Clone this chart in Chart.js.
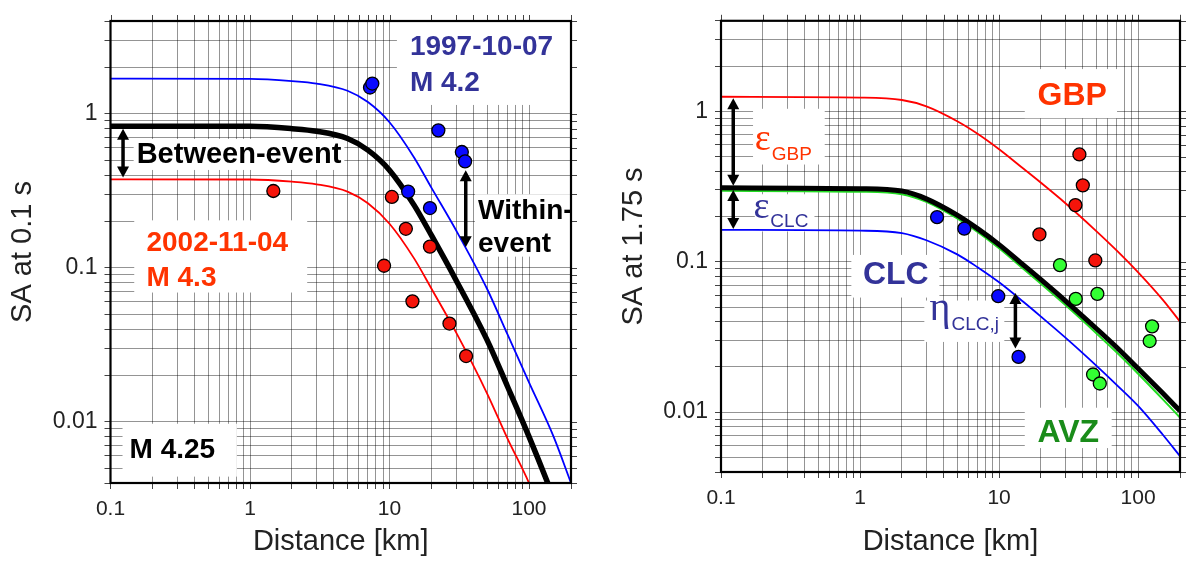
<!DOCTYPE html>
<html lang="en">
<head>
<meta charset="UTF-8">
<title>SA vs distance</title>
<script src="https://cdn.jsdelivr.net/npm/chart.js"></script>
<style>
  html, body { margin: 0; padding: 0; background: #fff; }
  .panel { position: absolute; top: 0; width: 594px; height: 563px; }
  #left { left: 0; }
  #right { left: 594px; }
</style>
</head>
<body>
<div class="panel" id="left"><canvas id="chartShort"></canvas></div>
<div class="panel" id="right"><canvas id="chartLong"></canvas></div>
<script>
const distKm = [0.1, 1, 2, 3, 5, 7, 10, 15, 20, 30, 50, 70, 100, 150, 200];

// left panel, SA at 0.1 s
const medianShort = [0.83, 0.828, 0.80, 0.77, 0.69, 0.58, 0.43, 0.255, 0.162, 0.083, 0.034, 0.017, 0.0080, 0.0032, 0.0016];
const event1997 = [1.69, 1.685, 1.63, 1.57, 1.41, 1.19, 0.88, 0.52, 0.33, 0.175, 0.073, 0.037, 0.018, 0.0080, 0.0040];
const event2002 = [0.375, 0.374, 0.362, 0.348, 0.312, 0.262, 0.193, 0.115, 0.073, 0.038, 0.0153, 0.0078, 0.0040, 0.0016, 0.0008];
const dist1997 = [7.25, 7.53, 22.4, 33.0, 34.8, 13.6, 19.5];
const sa1997 = [1.48, 1.57, 0.78, 0.564, 0.49, 0.312, 0.244];
const dist2002 = [1.47, 10.4, 13.1, 19.5, 9.14, 14.6, 26.9, 35.4];
const sa2002 = [0.315, 0.288, 0.179, 0.137, 0.103, 0.0605, 0.0434, 0.0267];

// right panel, SA at 1.75 s
const medianLong = [0.31, 0.306, 0.295, 0.262, 0.204, 0.166, 0.130, 0.095, 0.076, 0.055, 0.036, 0.027, 0.0195, 0.0134, 0.0102];
const gbpModel = [1.25, 1.235, 1.19, 1.08, 0.86, 0.71, 0.56, 0.415, 0.335, 0.245, 0.160, 0.119, 0.085, 0.056, 0.040];
const clcModel = [0.163, 0.161, 0.155, 0.139, 0.112, 0.092, 0.073, 0.054, 0.0432, 0.0313, 0.0204, 0.0152, 0.011, 0.0071, 0.0051];
const avzModel = [0.296, 0.292, 0.281, 0.25, 0.194, 0.158, 0.123, 0.0895, 0.0715, 0.0515, 0.0335, 0.025, 0.018, 0.0122, 0.0092];
const clcDist = [3.58, 5.62, 9.86, 13.8];
const clcSA = [0.198, 0.166, 0.059, 0.0233];
const gbpDist = [37.8, 40.0, 35.4, 19.5, 49.2];
const gbpSA = [0.517, 0.322, 0.238, 0.152, 0.102];
const avzDist = [27.4, 35.6, 50.9, 126, 121, 47.4, 53.0];
const avzSA = [0.095, 0.0566, 0.0612, 0.0372, 0.0297, 0.0178, 0.0155];

const xTickLabels = ['0.1', '1', '10', '100'];
const yTickLabels = ['0.01', '0.1', '1'];

const FONT = '"Liberation Sans", Arial, Helvetica, sans-serif';
const SERIF = '"Liberation Serif", "Times New Roman", serif';
const INK = '#222';

function pts(xs, ys) { return xs.map((x, i) => ({ x: x, y: ys[i] })); }

// grid every 1..9 x 10^k inside the range
function logGrid(min, max) {
  const out = [];
  for (let k = -4; k <= 3; k++) {
    for (let m = 1; m <= 9; m++) {
      const v = Number((m * Math.pow(10, k)).toPrecision(6));
      if (v >= min - 1e-12 && v <= max + 1e-12) out.push({ value: v });
    }
  }
  return out;
}

function labelFor(list, value) {
  const hit = list.find(t => Math.abs(Math.log10(+t) - Math.log10(value)) < 1e-6);
  return hit || '';
}

function curve(data, color, width, order) {
  return {
    data: pts(distKm, data), borderColor: color, borderWidth: width,
    pointRadius: 0, cubicInterpolationMode: 'monotone', clip: 0, order: order
  };
}

function dots(xs, ys, fill) {
  return {
    data: pts(xs, ys), showLine: false, pointRadius: 6.5, pointBackgroundColor: fill,
    pointBorderColor: '#000', pointBorderWidth: 1.3, order: 0
  };
}

function toPx(chart, d, v) {
  return [chart.scales.x.getPixelForValue(d), chart.scales.y.getPixelForValue(v)];
}

function drawArrow(ctx, x, ya, yb) {
  const y0 = Math.min(ya, yb), y1 = Math.max(ya, yb);
  const head = 11, half = 6;
  ctx.strokeStyle = '#000';
  ctx.fillStyle = '#000';
  ctx.lineWidth = 3.5;
  ctx.beginPath();
  ctx.moveTo(x, y0 + head - 1);
  ctx.lineTo(x, y1 - head + 1);
  ctx.stroke();
  ctx.beginPath();
  ctx.moveTo(x, y0); ctx.lineTo(x - half, y0 + head); ctx.lineTo(x + half, y0 + head);
  ctx.closePath(); ctx.fill();
  ctx.beginPath();
  ctx.moveTo(x, y1); ctx.lineTo(x - half, y1 - head); ctx.lineTo(x + half, y1 - head);
  ctx.closePath(); ctx.fill();
}

// white boxes, frame, outer ticks, arrows and labels
const figurePlugin = {
  id: 'figure',
  beforeDatasetsDraw(chart, args, opts) {
    const { ctx, chartArea: a } = chart;
    ctx.save();
    ctx.beginPath();
    ctx.rect(a.left + 1, a.top + 1, a.right - a.left - 2, a.bottom - a.top - 2);
    ctx.clip();
    ctx.fillStyle = '#fff';
    (opts.boxes || []).forEach(b => {
      const [x0, y0] = toPx(chart, b[0], b[1]);
      const [x1, y1] = toPx(chart, b[2], b[3]);
      ctx.fillRect(Math.min(x0, x1), Math.min(y0, y1), Math.abs(x1 - x0), Math.abs(y1 - y0));
    });
    (opts.texts || []).filter(t => t.bg).forEach(t => {
      const [x, y] = toPx(chart, t.d, t.v);
      ctx.font = t.font;
      const w = ctx.measureText(t.text).width;
      ctx.fillRect(x - 3, y - 24, w + 6, 31);
    });
    ctx.restore();
  },
  afterDatasetsDraw(chart) {
    const { ctx, chartArea: a, scales } = chart;
    ctx.save();
    ctx.strokeStyle = '#444';
    ctx.lineWidth = 1;
    scales.x.ticks.forEach(t => {
      const x = Math.round(scales.x.getPixelForValue(t.value)) + 0.5;
      ctx.beginPath(); ctx.moveTo(x, a.top); ctx.lineTo(x, a.top - 6); ctx.stroke();
    });
    scales.y.ticks.forEach(t => {
      const y = Math.round(scales.y.getPixelForValue(t.value)) + 0.5;
      ctx.beginPath(); ctx.moveTo(a.right, y); ctx.lineTo(a.right + 6, y); ctx.stroke();
    });
    ctx.strokeStyle = '#000';
    ctx.lineWidth = 2.2;
    ctx.strokeRect(a.left, a.top, a.right - a.left, a.bottom - a.top);
    ctx.restore();
  },
  afterDraw(chart, args, opts) {
    const { ctx } = chart;
    ctx.save();
    (opts.arrows || []).forEach(r => {
      const [x, ya] = toPx(chart, r[0], r[1]);
      const yb = chart.scales.y.getPixelForValue(r[2]);
      drawArrow(ctx, x, ya, yb);
    });
    ctx.textBaseline = 'alphabetic';
    ctx.textAlign = 'left';
    (opts.texts || []).forEach(t => {
      const [x, y] = toPx(chart, t.d, t.v);
      ctx.font = t.font;
      ctx.fillStyle = t.color;
      ctx.fillText(t.text, x, y);
      if (t.sub) {
        const w = ctx.measureText(t.text).width;
        ctx.font = t.subFont;
        ctx.fillText(t.sub, x + w + 1, y + t.subDrop);
      }
    });
    ctx.restore();
  }
};

function makeChart(id, datasets, yTitle, frame, notes) {
  const gridOpts = { color: 'rgba(0,0,0,0.42)', lineWidth: 1, tickLength: 6, tickColor: '#444' };
  return new Chart(document.getElementById(id), {
    type: 'line',
    data: { datasets: datasets },
    plugins: [figurePlugin],
    options: {
      responsive: true,
      maintainAspectRatio: false,
      animation: false,
      devicePixelRatio: 1,
      layout: { padding: { top: frame.top, right: frame.right, left: 0, bottom: 0 } },
      plugins: { legend: { display: false }, tooltip: { enabled: false }, figure: notes },
      scales: {
        x: {
          type: 'logarithmic', min: 0.1, max: 200,
          afterBuildTicks: s => { s.ticks = logGrid(0.1, 200); },
          afterFit: s => { s.height = frame.xAxis; },
          grid: gridOpts,
          border: { display: false },
          ticks: {
            autoSkip: false, maxRotation: 0, minRotation: 0, padding: frame.xPad, color: INK,
            font: { family: FONT, size: 21 },
            callback: v => labelFor(xTickLabels, v)
          },
          title: {
            display: true, text: 'Distance [km]', color: INK,
            font: { family: FONT, size: 29 }, padding: { top: 0, bottom: 4 }
          }
        },
        y: {
          type: 'logarithmic', min: 0.004, max: 4,
          afterBuildTicks: s => { s.ticks = logGrid(0.004, 4); },
          afterFit: s => { s.width = frame.yAxis; },
          grid: gridOpts,
          border: { display: false },
          ticks: {
            autoSkip: false, padding: 7, color: INK,
            font: { family: FONT, size: 23 },
            callback: v => labelFor(yTickLabels, v)
          },
          title: {
            display: true, text: yTitle, color: INK,
            font: { family: FONT, size: 29 }, padding: { top: frame.titlePad, bottom: 0 }
          }
        }
      }
    }
  });
}

const BOLD28 = 'bold 28px ' + FONT;
const BOLD32 = 'bold 32px ' + FONT;
const NAVY = '#333399';
const ORANGE = '#ff3300';

makeChart('chartShort', [
  dots(dist1997, sa1997, '#0a0aff'),
  dots(dist2002, sa2002, '#f5140a'),
  curve(medianShort, '#000', 5.5, 1),
  curve(event1997, '#0000ff', 1.8, 2),
  curve(event2002, '#ff0000', 1.8, 2)
], 'SA at 0.1 s',
{ top: 21, right: 23, yAxis: 110.5, xAxis: 80, xPad: 8, titlePad: 6 },
{
  boxes: [[11.3, 4, 200, 1.14], [0.148, 0.203, 2.57, 0.069], [0.122, 0.0097, 0.805, 0.0044], [41, 0.30, 200, 0.118]],
  arrows: [[0.123, 0.80, 0.385], [35.2, 0.43, 0.136]],
  texts: [
    { text: '1997-10-07', d: 14.0, v: 2.40, font: BOLD28, color: NAVY },
    { text: 'M 4.2', d: 14.0, v: 1.41, font: BOLD28, color: NAVY },
    { text: '2002-11-04', d: 0.181, v: 0.129, font: BOLD28, color: ORANGE },
    { text: 'M 4.3', d: 0.181, v: 0.0766, font: BOLD28, color: ORANGE },
    { text: 'Between-event', d: 0.154, v: 0.479, font: 'bold 29px ' + FONT, color: '#000', bg: true },
    { text: 'Within-', d: 43.1, v: 0.208, font: BOLD28, color: '#000' },
    { text: 'event', d: 43.1, v: 0.126, font: BOLD28, color: '#000' },
    { text: 'M 4.25', d: 0.137, v: 0.00582, font: BOLD28, color: '#000' }
  ]
});

makeChart('chartLong', [
  dots(clcDist, clcSA, '#0a0aff'),
  dots(gbpDist, gbpSA, '#f5140a'),
  dots(avzDist, avzSA, '#33ff33'),
  curve(medianLong, '#000', 5, 1),
  curve(avzModel, '#22dd22', 2, 2),
  curve(gbpModel, '#ff0000', 1.8, 2),
  curve(clcModel, '#0000ff', 1.8, 2)
], 'SA at 1.75 s',
{ top: 14, right: 7, yAxis: 127, xAxis: 91, xPad: 8, titlePad: 23 },
{
  boxes: [[15.3, 1.91, 70.5, 0.90], [0.17, 1.04, 0.557, 0.443], [0.175, 0.281, 0.47, 0.159],
          [0.866, 0.111, 3.72, 0.0578], [15.3, 0.0107, 64.5, 0.00577], [2.9, 0.0552, 10.9, 0.0293]],
  arrows: [[0.1225, 1.22, 0.32], [0.1225, 0.30, 0.165], [13.1, 0.062, 0.0265]],
  texts: [
    { text: 'GBP', d: 18.9, v: 1.094, font: BOLD32, color: ORANGE },
    { text: 'CLC', d: 1.049, v: 0.0706, font: BOLD32, color: NAVY },
    { text: 'AVZ', d: 18.9, v: 0.00632, font: BOLD32, color: '#1a8c1a' },
    { text: '\u03b5', d: 0.175, v: 0.555, font: '38px ' + SERIF, color: ORANGE,
      sub: 'GBP', subFont: '19px ' + FONT, subDrop: 10 },
    { text: '\u03b5', d: 0.171, v: 0.196, font: '38px ' + SERIF, color: NAVY,
      sub: 'CLC', subFont: '19px ' + FONT, subDrop: 9 },
    { text: '\u03b7', d: 3.16, v: 0.0408, font: '40px ' + SERIF, color: NAVY,
      sub: 'CLC,j', subFont: '19px ' + FONT, subDrop: 10 }
  ]
});
</script>
</body>
</html>
